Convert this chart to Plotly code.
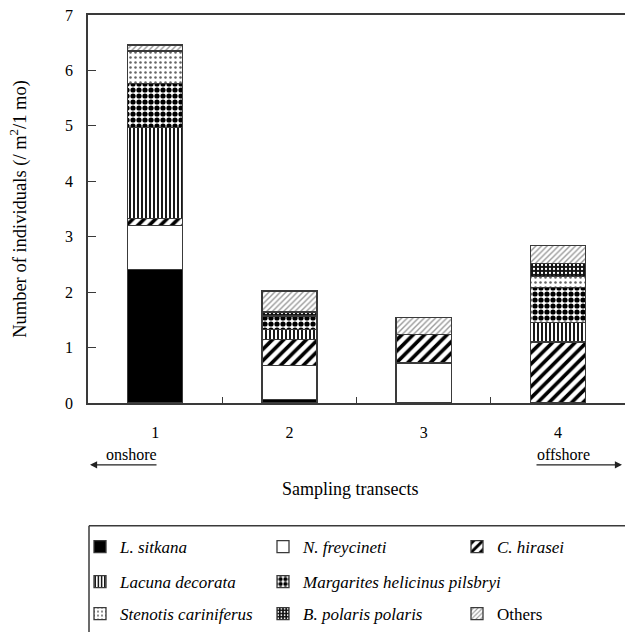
import plotly.graph_objects as go

# ---------------- data ----------------
transects = [1, 2, 3, 4]
tick_labels = ["1", "2", "3", "4"]
species = ["<i>L. sitkana</i>", "<i>N. freycineti</i>", "<i>C. hirasei</i>",
           "<i>Lacuna decorata</i>", "<i>Margarites helicinus pilsbryi</i>",
           "<i>Stenotis cariniferus</i>", "<i>B. polaris polaris</i>", "Others"]
l_sitkana = [2.41, 0.06, 0.00, 0.00]
n_freycineti = [0.79, 0.62, 0.72, 0.00]
c_hirasei = [0.13, 0.47, 0.52, 1.10]
lacuna_decorata = [1.64, 0.18, 0.00, 0.35]
margarites = [0.79, 0.24, 0.00, 0.64]
stenotis = [0.59, 0.00, 0.00, 0.19]
b_polaris = [0.00, 0.07, 0.00, 0.24]
others = [0.11, 0.38, 0.30, 0.32]
series = [l_sitkana, n_freycineti, c_hirasei, lacuna_decorata,
          margarites, stenotis, b_polaris, others]

# ---------------- layout helpers (pixels -> paper) ----------------
W, H = 625, 632
L, R, T, B = 88, 0, 15, 228
PW, PH = W - L - R, H - T - B


def px(x):
    return (x - L) / PW


def py(y):
    return (H - B - y) / PH


FONT = "Liberation Serif"
EDGE = "#3a3a3a"

styles = [
    dict(color="black"),
    dict(color="white"),
    dict(color="white", pattern=dict(shape="/", fgcolor="black", bgcolor="white",
                                     size=8, solidity=0.45, fillmode="replace")),
    dict(color="white", pattern=dict(shape="|", fgcolor="black", bgcolor="white",
                                     size=4, solidity=0.45, fillmode="replace")),
    dict(color="white", pattern=dict(shape=".", fgcolor="black", bgcolor="white",
                                     size=6, solidity=0.6, fillmode="replace")),
    dict(color="white", pattern=dict(shape=".", fgcolor="#666", bgcolor="white",
                                     size=5, solidity=0.2, fillmode="replace")),
    dict(color="black", pattern=dict(shape=".", fgcolor="white", bgcolor="#111",
                                     size=4, solidity=0.25, fillmode="replace")),
    dict(color="white", pattern=dict(shape="/", fgcolor="#999", bgcolor="white",
                                     size=4, solidity=0.35, fillmode="replace")),
]

# legend slot positions (x, row-center y) in pixels
slots = [(80, 547), (263, 547), (457, 547),
         (80, 582), (263, 582),
         (80, 616), (263, 616), (457, 616)]

fig = go.Figure()
layout_legends = {}
for i, (name, vals, st) in enumerate(zip(species, series, styles)):
    lid = "legend" if i == 0 else f"legend{i + 1}"
    marker = dict(line=dict(color=EDGE, width=1.3))
    marker.update(st)
    fig.add_trace(go.Bar(x=transects, y=vals, name=name, marker=marker,
                         width=0.41, legend=lid))
    sx, sy = slots[i]
    layout_legends[lid] = dict(
        x=px(sx), y=py(sy), xanchor="left", yanchor="middle",
        orientation="h", bgcolor="rgba(0,0,0,0)", borderwidth=0,
        font=dict(family=FONT, size=17, color="black"), itemwidth=30,
    )

fig.update_layout(
    width=W, height=H,
    margin=dict(l=L, r=R, t=T, b=B, pad=0),
    barmode="stack",
    plot_bgcolor="white", paper_bgcolor="white",
    font=dict(family=FONT, size=16, color="black"),
    showlegend=True,
    **layout_legends,
)

fig.update_xaxes(
    range=[0.5, 4.5], tickmode="array", tickvals=transects, ticktext=tick_labels,
    ticks="", showgrid=False, zeroline=False,
    showline=True, linecolor=EDGE, linewidth=1.5, mirror=True,
    tickfont=dict(family=FONT, size=16), ticklabelstandoff=14,
    minor=dict(tickmode="array", tickvals=[1.5, 2.5, 3.5], ticks="inside",
               ticklen=6, tickwidth=1.3, tickcolor=EDGE, showgrid=False),
)
fig.update_yaxes(
    range=[0, 7], tickmode="linear", tick0=0, dtick=1,
    ticks="inside", ticklen=8, tickwidth=1.3, tickcolor=EDGE,
    showgrid=False, zeroline=False,
    showline=True, linecolor=EDGE, linewidth=1.5, mirror=False,
    tickfont=dict(family=FONT, size=16), ticklabelstandoff=10,
    title=dict(text="Number of individuals (/ m<sup>2</sup>/1 mo)",
               font=dict(family=FONT, size=18.5), standoff=34),
)

annotations = [
    dict(text="onshore", x=px(131), y=py(456), xref="paper", yref="paper",
         xanchor="center", yanchor="middle",
         showarrow=False, font=dict(family=FONT, size=16)),
    dict(text="offshore", x=px(563), y=py(456), xref="paper", yref="paper",
         xanchor="center", yanchor="middle",
         showarrow=False, font=dict(family=FONT, size=16)),
    dict(text="", x=px(90), y=py(466), xref="paper", yref="paper",
         ax=68, ay=0, showarrow=True, arrowhead=2, arrowsize=1.1,
         arrowwidth=1.3, arrowcolor="#222"),
    dict(text="", x=px(622), y=py(466), xref="paper", yref="paper",
         ax=-87, ay=0, showarrow=True, arrowhead=2, arrowsize=1.1,
         arrowwidth=1.3, arrowcolor="#222"),
    dict(text="Sampling transects", x=px(350), y=py(490), xref="paper", yref="paper",
         xanchor="center", yanchor="middle",
         showarrow=False, font=dict(family=FONT, size=18)),
]
fig.update_layout(annotations=annotations)

# legend frame (top and left edges; the right/bottom run off the page)
fig.add_shape(type="line", xref="paper", yref="paper",
              x0=px(89), x1=px(640), y0=py(527), y1=py(527),
              line=dict(color=EDGE, width=1.5))
fig.add_shape(type="line", xref="paper", yref="paper",
              x0=px(89), x1=px(89), y0=py(527), y1=py(650),
              line=dict(color=EDGE, width=1.5))

fig.write_html("out.html")
